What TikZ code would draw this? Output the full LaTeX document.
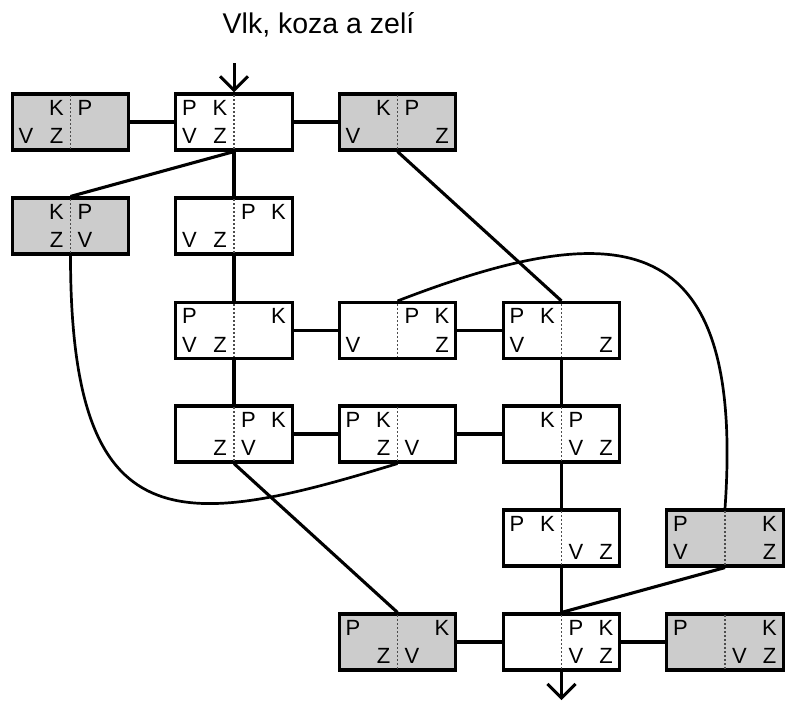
\documentclass[tikz,border=0pt]{standalone}
\usepackage{fontspec}
\setmainfont{Liberation Sans}
\usetikzlibrary{arrows.meta}
\tikzset{
  statebox/.style={draw, line width=3.1pt, minimum width=116.5pt, minimum height=56pt, inner sep=0pt, fill=white},
  graybox/.style={statebox, fill=black!20},
  divider/.style={draw=black!70, line width=1.1pt, dash pattern=on 2pt off 2pt, shorten >=3pt, shorten <=3pt},
  slot/.style={inner sep=0pt, font=\fontsize{22}{26}\selectfont},
  link/.style={line width=3.1pt},
  bendline/.style={line width=2.7pt},
  arr/.style={line width=3pt, -{Straight Barb[length=14pt,width=28pt]}},
}
\newcommand\putslot[5]{\if\relax\detokenize{#5}\relax\else\node[slot] (#1-#2) at ([shift={(#3,#4)}]#1.center) {#5};\fi}
\newcommand\slots[9]{%
  \draw[divider] (#1.north) -- (#1.south);
  \putslot{#1}{1}{-44.5}{-14.5}{#2}%
  \putslot{#1}{2}{-14}{-14.5}{#3}%
  \putslot{#1}{3}{14.5}{-14.5}{#4}%
  \putslot{#1}{4}{44.5}{-14.5}{#5}%
  \putslot{#1}{5}{-44.5}{14}{#6}%
  \putslot{#1}{6}{-14}{14}{#7}%
  \putslot{#1}{7}{14.5}{14}{#8}%
  \putslot{#1}{8}{44.5}{14}{#9}%
}
\begin{document}
\begin{tikzpicture}[x=1pt,y=-1pt]
\useasboundingbox (0,0) rectangle (790,702);
\node[font=\fontsize{28.5}{33}\selectfont, anchor=base] (title) at (318.5,33) {Vlk, koza a zelí};

% boxes
\node[graybox]  (a1) at (70.5,122) {};
\node[statebox] (b1) at (234,122) {};
\node[graybox]  (c1) at (397.5,122) {};
\node[graybox]  (a2) at (70.5,226) {};
\node[statebox] (b2) at (234,226) {};
\node[statebox] (b3) at (234,330.5) {};
\node[statebox] (c3) at (397.5,330.5) {};
\node[statebox] (d3) at (561.5,330.5) {};
\node[statebox] (b4) at (234,434) {};
\node[statebox] (c4) at (397.5,434) {};
\node[statebox] (d4) at (561.5,434) {};
\node[statebox] (d5) at (561.5,538) {};
\node[graybox]  (e5) at (725,538) {};
\node[graybox]  (c6) at (397.5,642) {};
\node[statebox] (d6) at (561.5,642) {};
\node[graybox]  (e6) at (725,642) {};

\slots{a1}{}{K}{P}{}{V}{Z}{}{}
\slots{b1}{P}{K}{}{}{V}{Z}{}{}
\slots{c1}{}{K}{P}{}{V}{}{}{Z}
\slots{a2}{}{K}{P}{}{}{Z}{V}{}
\slots{b2}{}{}{P}{K}{V}{Z}{}{}
\slots{b3}{P}{}{}{K}{V}{Z}{}{}
\slots{c3}{}{}{P}{K}{V}{}{}{Z}
\slots{d3}{P}{K}{}{}{V}{}{}{Z}
\slots{b4}{}{}{P}{K}{}{Z}{V}{}
\slots{c4}{P}{K}{}{}{}{Z}{V}{}
\slots{d4}{}{K}{P}{}{}{}{V}{Z}
\slots{d5}{P}{K}{}{}{}{}{V}{Z}
\slots{e5}{P}{}{}{K}{V}{}{}{Z}
\slots{c6}{P}{}{}{K}{}{Z}{V}{}
\slots{d6}{}{}{P}{K}{}{}{V}{Z}
\slots{e6}{P}{}{}{K}{}{}{V}{Z}

% connectors
\coordinate (start) at (234,63);
\coordinate (finish) at (561.5,700);
\draw[arr] (start) -- (b1.north);
\draw[arr] (d6.south) -- (finish);
\draw[link] (a1.east) -- (b1.west);
\draw[link] (b1.east) -- (c1.west);
\draw[link] (b1.south) -- (a2.north);
\draw[link] (b1.south) -- (b2.north);
\draw[link] (c1.south) -- (d3.north);
\draw[link] (b2.south) -- (b3.north);
\draw[link] (b3.east) -- (c3.west);
\draw[link] (c3.east) -- (d3.west);
\draw[link] (b3.south) -- (b4.north);
\draw[link] (d3.south) -- (d4.north);
\draw[link] (b4.east) -- (c4.west);
\draw[link] (c4.east) -- (d4.west);
\draw[link] (b4.south) -- (c6.north);
\draw[link] (d4.south) -- (d5.north);
\draw[link] (d5.south) -- (d6.north);
\draw[link] (e5.south) -- (d6.north);
\draw[link] (c6.east) -- (d6.west);
\draw[link] (d6.east) -- (e6.west);
\draw[bendline] (a2.south) .. controls (70.5,545) and (180,530) .. (c4.south);
\draw[bendline] (c3.north) .. controls (620,215) and (745,225) .. (e5.north);
\end{tikzpicture}
\end{document}
